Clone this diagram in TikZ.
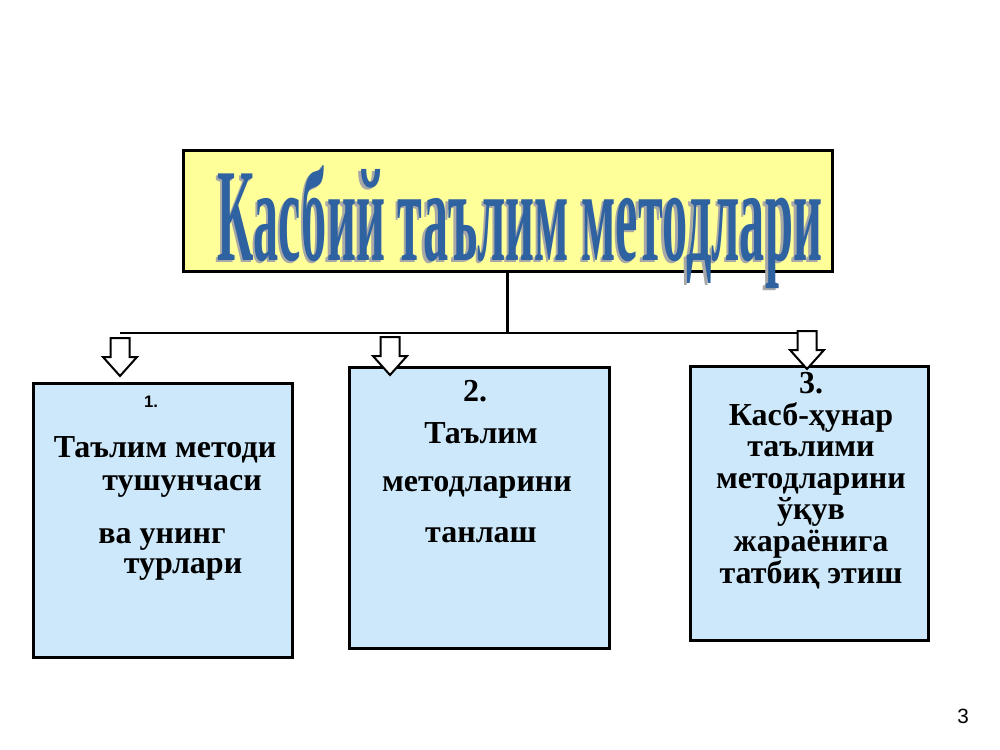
\documentclass[tikz,border=0pt]{standalone}
\usepackage{fontspec}
\setmainfont{Liberation Serif}
\newfontfamily\sansf{Liberation Sans}
\usepackage{graphicx}
\definecolor{ttlfill}{HTML}{FFFF99}
\definecolor{boxfill}{HTML}{CCE8FA}
\definecolor{ttlblue}{HTML}{2F62A0}
\definecolor{ttlshadow}{HTML}{A8A8A8}
\newcommand\ttlraw{\resizebox{453pt}{71pt}{\bfseries Касбий таълим методлари}}
\newcommand\ttltxt{\rlap{\hspace{-1.9pt}\raisebox{-1.9pt}{\color{ttlshadow}\ttlraw}}{\color{ttlblue}\ttlraw}}
\begin{document}
\begin{tikzpicture}[x=0.75pt,y=-0.75pt,
  frame/.style={draw=black, line width=2.25pt, rectangle, inner sep=0pt},
  bodytext/.style={font=\fontsize{24}{26}\selectfont\bfseries, anchor=base, inner sep=0pt},
  link/.style={line width=2.2pt},
  barrow/.pic={\draw[fill=white, line width=1.5pt, line join=miter]
     (-9.5,0) -- (9.5,0) -- (9.5,19) -- (17,19) -- (0,38) -- (-17,19) -- (-9.5,19) -- cycle;}]
\fill[white] (0,0) rectangle (1000,750);
\useasboundingbox (0,0) rectangle (1000,750);

% title
\node[frame, fill=ttlfill, minimum width=486.75pt, minimum height=90.75pt] (title) at (507.5,210.5) {};
\node[anchor=base, inner sep=0pt] (titletext) at (520,260) {\ttltxt};

% boxes
\node[frame, fill=boxfill, minimum width=194.25pt, minimum height=205.5pt] (b1) at (162.5,520) {};
\node[frame, fill=boxfill, minimum width=195pt, minimum height=210.75pt] (b2) at (479,507.5) {};
\node[frame, fill=boxfill, minimum width=178.5pt, minimum height=205.5pt] (b3) at (809,503) {};

% connectors
\coordinate (j) at (507.5,333);
\coordinate (h1) at (120,333);
\coordinate (h3) at (807,333);
\draw[link] (title.south) -- (j);
\draw[link] (h1) -- (h3);
\pic at (120,338) {barrow};
\pic at (390,337) {barrow};
\pic at (807,331) {barrow};

% box 1 text
\node[anchor=base, inner sep=0pt, font=\sansf\fontsize{12.5}{14}\selectfont\bfseries] (t1n) at (151,407) {1.};
\node[bodytext] (t1a) at (165,457) {Таълим методи};
\node[bodytext] (t1b) at (182,490) {тушунчаси};
\node[bodytext] (t1c) at (162,543) {ва унинг};
\node[bodytext] (t1d) at (183,573) {турлари};

% box 2 text
\node[bodytext] (t2n) at (475,401) {2.};
\node[bodytext] (t2a) at (481,443) {Таълим};
\node[bodytext] (t2b) at (477,491) {методларини};
\node[bodytext] (t2c) at (481,542) {танлаш};

% box 3 text
\node[bodytext, font=\fontsize{24}{23.7}\selectfont\bfseries, align=center, anchor=north]
  (t3) at (811,372) {3.\\Касб-ҳунар\\таълими\\методларини\\ўқув\\жараёнига\\татбиқ этиш};

% page number
\node[anchor=base, inner sep=0pt, font=\sansf\fontsize{15.5}{17}\selectfont] (pnum) at (963,723) {3};
\end{tikzpicture}
\end{document}
